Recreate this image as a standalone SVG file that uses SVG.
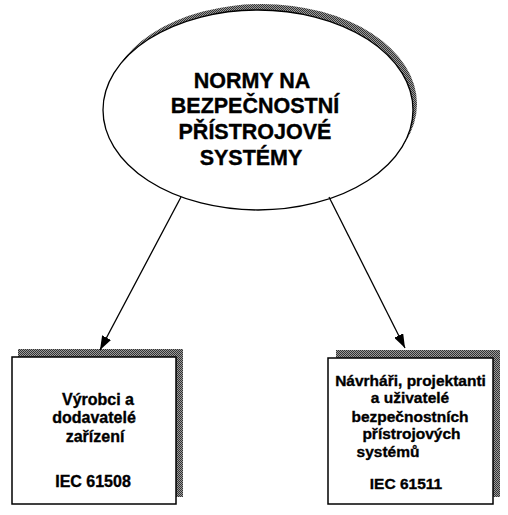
<svg xmlns="http://www.w3.org/2000/svg" width="508" height="515" viewBox="0 0 508 515">
<style>
.t{font-family:"Liberation Sans",Arial,sans-serif;font-weight:bold;fill:#000;stroke:#000;stroke-width:0.35;text-anchor:middle}
.big{font-size:21.5px}
.sm{font-size:16px}
.sm2{font-size:15.5px}
.shadow{fill:url(#dither);stroke:none}
.box{fill:#fff;stroke:#000;stroke-width:1.5}
.conn{stroke:#000;stroke-width:1.3;fill:none}
</style>
<defs>
<pattern id="dither" width="2" height="2" patternUnits="userSpaceOnUse">
<rect width="2" height="2" fill="#9a9a9a"/>
<rect width="1" height="1" fill="#333"/>
<rect x="1" y="1" width="1" height="1" fill="#333"/>
</pattern>
<marker id="arr" viewBox="0 0 14 10" refX="14" refY="5" markerWidth="14" markerHeight="10" markerUnits="userSpaceOnUse" orient="auto">
<path d="M0,0 L14,5 L0,10 Z" fill="#000"/>
</marker>
</defs>
<g id="node-norms">
<ellipse class="shadow" cx="262" cy="104" rx="155" ry="100"/>
<ellipse cx="258" cy="110" rx="155" ry="100" fill="#fff" stroke="#000" stroke-width="1.3"/>
<text class="t big" x="252" y="88">NORMY NA</text>
<text class="t big" x="255" y="113">BEZPEČNOSTNÍ</text>
<text class="t big" x="255" y="139">PŘÍSTROJOVÉ</text>
<text class="t big" x="251" y="165">SYSTÉMY</text>
</g>
<g id="node-manufacturers">
<rect class="shadow" x="18" y="349" width="165" height="148"/>
<rect class="box" x="12" y="357" width="164" height="147"/>
<text class="t sm" x="98" y="405">Výrobci a</text>
<text class="t sm" x="94" y="423">dodavatelé</text>
<text class="t sm" x="95" y="442">zařízení</text>
<text class="t sm" x="93" y="487">IEC 61508</text>
</g>
<g id="node-designers">
<rect class="shadow" x="336" y="350" width="164" height="147"/>
<rect class="box" x="328" y="358" width="165" height="146"/>
<text class="t sm2" x="410.5" y="386">Návrháři, projektanti</text>
<text class="t sm2" x="410" y="403">a uživatelé</text>
<text class="t sm2" x="410" y="422">bezpečnostních</text>
<text class="t sm2" x="411.5" y="439">přístrojových</text>
<text class="t sm2" x="388" y="457">systémů</text>
<text class="t sm2" x="406" y="489">IEC 61511</text>
</g>
<g id="connectors">
<line class="conn" x1="181" y1="197" x2="100" y2="350" marker-end="url(#arr)"/>
<line class="conn" x1="329" y1="197" x2="405" y2="348" marker-end="url(#arr)"/>
</g>
</svg>
